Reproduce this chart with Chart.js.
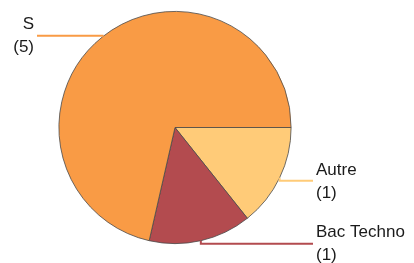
<!DOCTYPE html>
<html lang="fr">
<head>
    <meta charset="UTF-8">
    <title>Répartition par bac</title>
    <script src="https://cdn.jsdelivr.net/npm/chart.js"></script>
    <style>
        body { margin: 0; padding: 0; background: #fff; }
        #wrap { width: 414px; height: 263px; }
    </style>
</head>
<body>
    <div id="wrap"><canvas id="myChart"></canvas></div>
    <script>
        // data
        const categories = ['Autre', 'Bac Techno', 'S'];
        const counts = [1, 1, 5];
        const colors = ['#FFCB78', '#B34B4F', '#F99B45'];

        // leader lines + labels drawn from the arc positions
        const sideLabels = {
            id: 'sideLabels',
            afterDraw(chart) {
                const ctx = chart.ctx;
                const arcs = chart.getDatasetMeta(0).data;
                ctx.save();
                ctx.font = '17px "Liberation Sans", Arial, sans-serif';
                ctx.fillStyle = '#1a1a1a';
                ctx.textBaseline = 'middle';
                arcs.forEach((arc, i) => {
                    const mid = (arc.startAngle + arc.endAngle) / 2;
                    const px = arc.x + Math.cos(mid) * arc.outerRadius;
                    const py = arc.y + Math.sin(mid) * arc.outerRadius;
                    const right = Math.cos(mid) > -0.2;
                    const ly = right ? py + 3 : py - 1;
                    const endX = right ? 313 : 37;
                    ctx.strokeStyle = colors[i];
                    ctx.lineWidth = 2;
                    ctx.beginPath();
                    ctx.moveTo(px, py);
                    ctx.lineTo(px, ly);
                    ctx.lineTo(endX, ly);
                    ctx.stroke();
                    ctx.textAlign = right ? 'left' : 'right';
                    const tx = right ? 316 : 34;
                    ctx.fillText(categories[i], tx, ly - 11);
                    ctx.fillText('(' + counts[i] + ')', tx, ly + 12);
                });
                ctx.restore();
            }
        };

        new Chart(document.getElementById('myChart'), {
            type: 'pie',
            data: {
                labels: categories,
                datasets: [{
                    data: counts,
                    backgroundColor: colors,
                    borderColor: '#4a4a4a',
                    borderWidth: 0.8
                }]
            },
            options: {
                responsive: true,
                maintainAspectRatio: false,
                animation: false,
                rotation: 90,
                layout: { padding: { left: 58, right: 122, top: 11, bottom: 19 } },
                plugins: {
                    legend: { display: false },
                    tooltip: { enabled: false }
                }
            },
            plugins: [sideLabels]
        });
    </script>
</body>
</html>
